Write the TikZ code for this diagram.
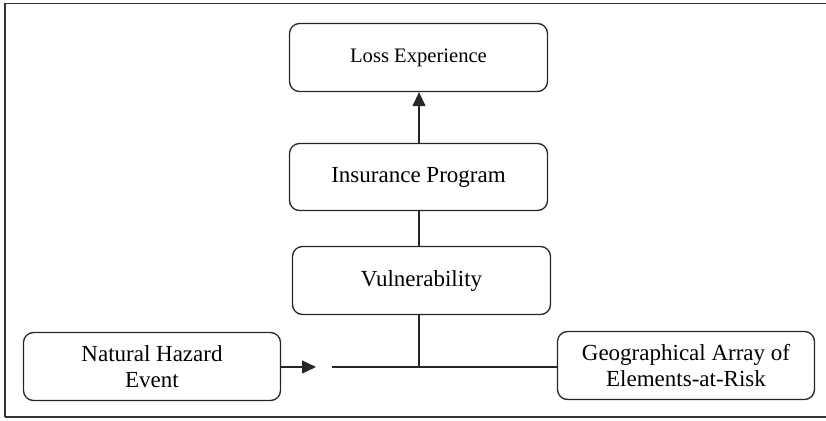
\documentclass[tikz,border=0pt]{standalone}
\usepackage{fontspec}
\setmainfont{Liberation Serif}
\usetikzlibrary{arrows.meta}
\begin{document}
\begin{tikzpicture}[x=1pt,y=-1pt,
  box/.style={draw=black!85,line width=1.3pt,rounded corners=10pt,align=center,
    inner sep=0pt,font=\fontsize{23}{26.5}\selectfont},
  conn/.style={draw=black!85,line width=1.3pt},
  tip/.style={-{Triangle[length=14pt,width=13pt]}}]
\useasboundingbox (0,0) rectangle (826,420);
\draw[black!80,line width=1.2pt] (5,417) -- (5,3.5) -- (830,3.5);
\draw[black!80,line width=2pt] (5,417) -- (830,417);
\node[box,minimum width=258pt,minimum height=68pt,font=\fontsize{20.6}{24}\selectfont] (loss) at (418.5,57.5) {Loss Experience};
\node[box,minimum width=258pt,minimum height=67pt] (ins) at (418.5,177) {Insurance Program};
\node[box,minimum width=258pt,minimum height=68pt] (vul) at (421.5,280.5) {Vulnerability};
\node[box,minimum width=257pt,minimum height=68pt] (nat) at (152,366.5) {Natural Hazard\\Event};
\node[box,minimum width=257pt,minimum height=68pt] (geo) at (686,365.5) {Geographical Array of\\Elements-at-Risk};
\coordinate (j) at (419,367);
\coordinate (t) at (316,367);
\coordinate (s) at (332,367);
\draw[conn,tip] (ins.north -| j) -- (loss.south -| j);
\draw[conn] (ins.south -| j) -- (vul.north -| j);
\draw[conn] (vul.south -| j) -- (j);
\draw[conn,tip] (nat.east |- j) -- (t);
\draw[conn] (s) -- (geo.west |- j);
\end{tikzpicture}
\end{document}
